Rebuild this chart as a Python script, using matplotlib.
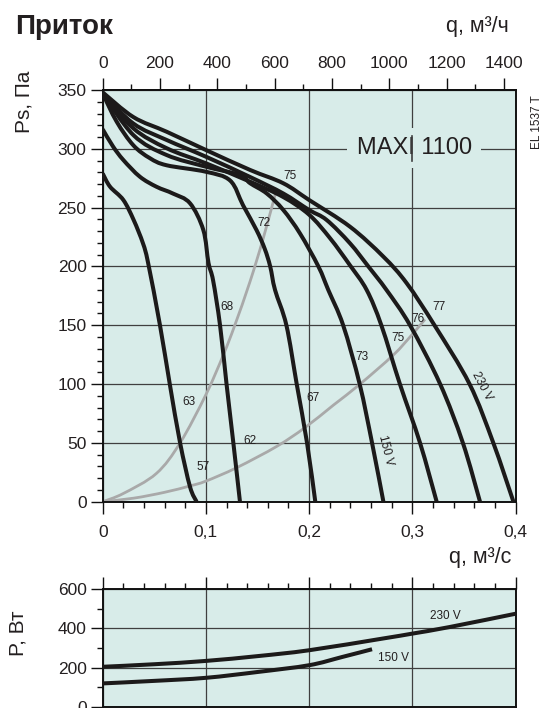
import matplotlib
matplotlib.use("Agg")
import matplotlib.pyplot as plt
from matplotlib.ticker import MultipleLocator, FixedLocator, FixedFormatter
from matplotlib.path import Path
from matplotlib.patches import PathPatch

plt.rcParams['font.family'] = ['Liberation Sans', 'DejaVu Sans']

# ---------------- data ----------------
# fan curves, q in m3/s, Ps in Pa
c1_q = [0.0, 0.0071, 0.02, 0.03, 0.039, 0.044, 0.0555, 0.065, 0.075, 0.0846, 0.091]
c1_p = [279, 267.8, 256.5, 239.5, 219.7, 203, 150, 100, 50, 12.7, 0]
c2_q = [0.0, 0.01, 0.02, 0.036, 0.052, 0.068, 0.0846, 0.0975, 0.1025, 0.107, 0.1137, 0.120, 0.1266, 0.133]
c2_p = [316.6, 302, 290.5, 276.3, 267.8, 262, 253.7, 231, 203, 188, 150, 100, 50, 0]
c3_q = [0.0, 0.0136, 0.0297, 0.0458, 0.062, 0.1, 0.1235, 0.136, 0.149, 0.157, 0.1623, 0.167, 0.178, 0.188, 0.198, 0.206]
c3_p = [347, 323, 303, 292, 286, 280.5, 273, 252, 231, 215, 200, 180, 150, 100, 50, 0]
c4_q = [0.0, 0.0297, 0.062, 0.1, 0.133, 0.1429, 0.159, 0.175, 0.1912, 0.209, 0.2186, 0.233, 0.249, 0.261, 0.272]
c4_p = [347, 311.7, 294.7, 284.8, 277.7, 270.7, 262, 248, 228, 200, 180, 150, 100, 50, 0]
c5_q = [0.0, 0.0297, 0.062, 0.1, 0.1429, 0.175, 0.2, 0.2203, 0.2396, 0.2558, 0.27, 0.288, 0.3075, 0.3236]
c5_p = [347, 317.4, 300.5, 287.7, 272, 259, 244, 224, 201, 180, 150, 100, 50, 0]
c6_q = [0.0, 0.0297, 0.062, 0.1, 0.1429, 0.175, 0.2, 0.217, 0.2396, 0.2574, 0.275, 0.2978, 0.327, 0.349, 0.3656]
c6_p = [347, 321.5, 307.5, 293.3, 276, 262, 248, 239.5, 219.7, 200, 180, 150, 100, 50, 0]
c7_q = [0.0, 0.0297, 0.062, 0.1, 0.1429, 0.175, 0.2, 0.2396, 0.272, 0.2946, 0.3215, 0.3555, 0.3785, 0.398]
c7_p = [348, 327, 314.5, 299, 282, 270.7, 256.5, 233.8, 208.3, 185.7, 150, 100, 50, 0]

# system (grey) curves
ga_q = [0.0, 0.02, 0.052, 0.075, 0.1, 0.117, 0.128, 0.1427, 0.1556, 0.1686]
ga_p = [0, 7, 24, 50, 91, 125, 150, 187, 224, 266]
gb_q = [0.0, 0.03, 0.06, 0.085, 0.1, 0.13, 0.1686, 0.196, 0.2234, 0.2494, 0.2816, 0.2994, 0.3123]
gb_p = [0, 3, 8, 13.5, 17.5, 29, 47, 63, 82, 100, 124.7, 141.7, 155]

# numbers along the grey curves
num_text = ["75", "72", "68", "63", "57", "62", "67", "73", "75", "76", "77"]
num_q = [0.1815, 0.1563, 0.1207, 0.0839, 0.0975, 0.1427, 0.2033, 0.2510, 0.2858, 0.3058, 0.3262]
num_p = [277.1, 237.2, 165.8, 85.0, 29.7, 51.8, 88.1, 122.7, 139.4, 155.1, 165.8]

# power curves, W
p230_q = [0.0, 0.05, 0.1, 0.151, 0.2, 0.271, 0.3, 0.336, 0.4]
p230_w = [204, 217, 234, 259, 288.5, 348, 373.5, 407, 475]
p150_q = [0.0, 0.05, 0.1, 0.151, 0.2, 0.232, 0.261]
p150_w = [119, 132, 147.6, 178, 212, 254, 293.6]

x_ticks = [0, 0.1, 0.2, 0.3, 0.4]
x_labels = ["0", "0,1", "0,2", "0,3", "0,4"]
top_ticks = [0, 200, 400, 600, 800, 1000, 1200, 1400]

# ---------------- style ----------------
W, H = 545, 708
BG = '#d8ece9'
GRID = '#3f3f3f'
INK = '#1c1a1a'
GREY = '#a9a9a9'
TXT = '#231f20'


def fx(px):
    return px / W


def fy(py):
    return 1 - py / H


def smooth_curve(a, xs, ys, **kw):
    """Draw a smooth (Catmull-Rom as cubic Bezier) path through the read points."""
    pts = list(zip(xs, ys))
    n = len(pts)
    verts = [pts[0]]
    codes = [Path.MOVETO]
    for i in range(n - 1):
        p0 = pts[i - 1] if i > 0 else pts[i]
        p1 = pts[i]
        p2 = pts[i + 1]
        p3 = pts[i + 2] if i + 2 < n else pts[i + 1]
        c1 = (p1[0] + (p2[0] - p0[0]) / 6.0, p1[1] + (p2[1] - p0[1]) / 6.0)
        c2 = (p2[0] - (p3[0] - p1[0]) / 6.0, p2[1] - (p3[1] - p1[1]) / 6.0)
        verts += [c1, c2, p2]
        codes += [Path.CURVE4, Path.CURVE4, Path.CURVE4]
    patch = PathPatch(Path(verts, codes), fill=False, **kw)
    a.add_patch(patch)
    return patch


fig = plt.figure(figsize=(W / 100, H / 100), dpi=100)
fig.patch.set_facecolor('white')

L, R = 102.7, 515.5
ax = fig.add_axes([fx(L), fy(501.7), (R - L) / W, (501.7 - 90) / H])
ax2 = fig.add_axes([fx(L), fy(706.7), (R - L) / W, (706.7 - 589.3) / H])

for a in (ax, ax2):
    a.set_facecolor(BG)
    a.set_xlim(0, 0.4)
    for s in a.spines.values():
        s.set_linewidth(1.4)
        s.set_color('#111111')
    a.set_axisbelow(True)
    a.grid(True, which='major', color=GRID, lw=0.9)

# main axes
ax.set_ylim(0, 350)
ax.xaxis.set_major_locator(FixedLocator(x_ticks))
ax.xaxis.set_major_formatter(FixedFormatter(x_labels))
ax.xaxis.set_minor_locator(MultipleLocator(0.02))
ax.yaxis.set_major_locator(MultipleLocator(50))
ax.yaxis.set_minor_locator(MultipleLocator(10))
ax.tick_params(which='major', direction='out', length=8.6, width=1.0, labelsize=12.5,
               colors='#111111', labelcolor=TXT)
ax.tick_params(which='minor', direction='out', length=4.3, width=1.0, colors='#111111')
ax.tick_params(axis='x', which='major', pad=8)
ax.tick_params(axis='y', which='major', pad=3)
ax.tick_params(top=False, right=False, which='both')

sec = ax.secondary_xaxis('top', functions=(lambda q: q * 3600, lambda h: h / 3600))
sec.xaxis.set_major_locator(FixedLocator(top_ticks))
sec.xaxis.set_minor_locator(MultipleLocator(100))
sec.tick_params(which='major', direction='out', length=8.6, width=1.0, labelsize=12.5,
                colors='#111111', labelcolor=TXT, pad=5)
sec.tick_params(which='minor', direction='out', length=4.3, width=1.0, colors='#111111')
sec.spines['top'].set_linewidth(1.4)

fan = [(c1_q, c1_p), (c2_q, c2_p), (c3_q, c3_p), (c4_q, c4_p),
       (c5_q, c5_p), (c6_q, c6_p), (c7_q, c7_p)]
for q, p in fan:
    smooth_curve(ax, q, p, edgecolor=INK, lw=2.9, joinstyle='round', capstyle='butt', zorder=3)

for q, p in [(ga_q, ga_p), (gb_q, gb_p)]:
    smooth_curve(ax, q, p, edgecolor=GREY, lw=2.0, joinstyle='round', capstyle='butt', zorder=2.5)

for t, q, p in zip(num_text, num_q, num_p):
    ax.text(q, p, t, fontsize=8.5, color=TXT, ha='center', va='center', zorder=4)

ax.text(0.3678, 98.4, "230 V", fontsize=8.5, color=TXT, rotation=-62,
        ha='center', va='center', zorder=4)
ax.text(0.2745, 43.4, "150 V", fontsize=8.5, color=TXT, rotation=-76,
        ha='center', va='center', zorder=4)

ax.text(0.3021, 300.7, "MAXI 1100", fontsize=17, color=TXT, ha='center', va='center',
        bbox=dict(boxstyle='square,pad=0.4', fc=BG, ec='none'), zorder=4)
ax.plot([0.3, 0.3], [290, 311], color=GRID, lw=1.2, zorder=5)

# power axes
ax2.set_ylim(0, 600)
ax2.xaxis.set_major_locator(FixedLocator(x_ticks))
ax2.xaxis.set_minor_locator(MultipleLocator(0.02))
ax2.yaxis.set_major_locator(MultipleLocator(200))
ax2.yaxis.set_minor_locator(MultipleLocator(100))
ax2.tick_params(which='major', direction='out', length=8.6, width=1.0, labelsize=12.5,
                colors='#111111', labelcolor=TXT, pad=3)
ax2.tick_params(which='minor', direction='out', length=4.3, width=1.0, colors='#111111')
ax2.tick_params(axis='x', which='both', bottom=False, labelbottom=False, top=True, labeltop=False)

smooth_curve(ax2, p230_q, p230_w, edgecolor=INK, lw=2.9, joinstyle='round', capstyle='butt', zorder=3)
smooth_curve(ax2, p150_q, p150_w, edgecolor=INK, lw=2.9, joinstyle='round', capstyle='butt', zorder=3)
ax2.text(0.3324, 461.6, "230 V", fontsize=8.5, color=TXT, ha='center', va='center')
ax2.text(0.2816, 249.4, "150 V", fontsize=8.5, color=TXT, ha='center', va='center')

# figure texts
fig.text(fx(15), fy(34), "Приток", fontsize=20, fontweight='bold', color=TXT,
         ha='left', va='baseline')
fig.text(fx(509), fy(32), "q, м³/ч", fontsize=15.5, color=TXT, ha='right', va='baseline')
fig.text(fx(511), fy(563), "q, м³/с", fontsize=15.5, color=TXT, ha='right', va='baseline')
fig.text(fx(24), fy(102), "Ps, Па", fontsize=15, color=TXT, rotation=90, ha='center', va='center')
fig.text(fx(18), fy(633), "P, Вт", fontsize=15, color=TXT, rotation=90, ha='center', va='center')
fig.text(fx(537.5), fy(122), "EL 1537 T", fontsize=8.5, color=TXT, rotation=90,
         ha='center', va='center')

fig.savefig("out.png", dpi=100, facecolor='white')
